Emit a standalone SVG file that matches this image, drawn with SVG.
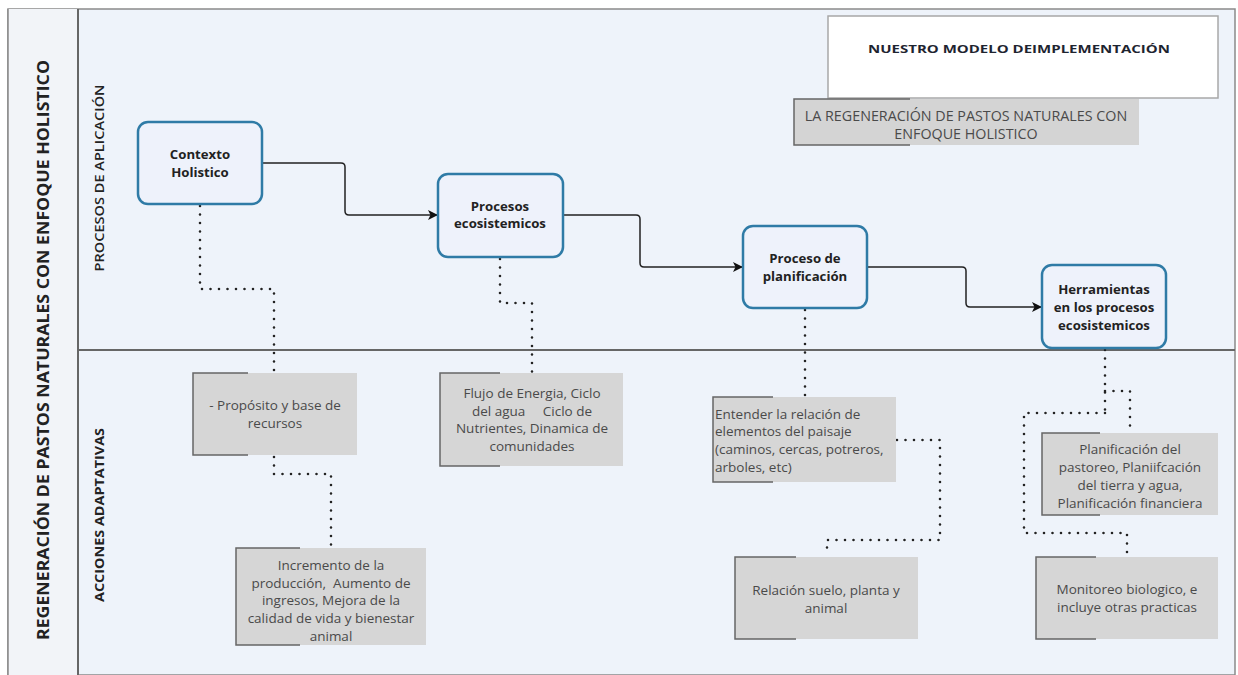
<svg xmlns="http://www.w3.org/2000/svg" width="1238" height="675" viewBox="0 0 1238 675">
<defs>
<style>
.node{fill:#eef2fb;stroke:#2f7ba6;stroke-width:2.5}
.nt{font-family:"Open Sans","Noto Sans",sans-serif;font-size:13.2px;font-weight:bold;fill:#222;text-anchor:middle}
.gbox{fill:#d6d6d6}
.gedge{fill:none;stroke:#666;stroke-width:1.5}
.gt{font-family:"Open Sans","Noto Sans",sans-serif;font-size:13.5px;fill:#4a4a4a;text-anchor:middle;white-space:pre}
.gtl{font-family:"Open Sans","Noto Sans",sans-serif;font-size:13.5px;fill:#4a4a4a;text-anchor:start}
.flow{fill:none;stroke:#222;stroke-width:1.5}
.dot{fill:none;stroke:#222;stroke-width:2.6;stroke-linecap:round;stroke-dasharray:0 8.5}
.lane{font-family:"Open Sans","Noto Sans",sans-serif;font-size:12.5px;fill:#222}
</style>
<marker id="arr" viewBox="0 0 10 10" refX="9" refY="5" markerWidth="10" markerHeight="10" markerUnits="userSpaceOnUse" orient="auto">
<path d="M0,0 L10,5 L0,10 L2.5,5 Z" fill="#111"/>
</marker>
</defs>

<g id="background">
<rect x="8" y="9" width="1227" height="666" fill="#eef3fa" stroke="#8a8a8a" stroke-width="1.5"/>
<rect x="8" y="9" width="70" height="666" fill="#f2f4f8"/>
<line x1="8" y1="9" x2="8" y2="675" stroke="#8a8a8a" stroke-width="1.5"/>
<line x1="78" y1="9" x2="78" y2="675" stroke="#666" stroke-width="2"/>
<line x1="78" y1="350" x2="1235" y2="350" stroke="#666" stroke-width="2"/>
<text transform="translate(49,350) rotate(-90)" font-family="Open Sans, Noto Sans, sans-serif" font-size="16" font-weight="bold" fill="#222" text-anchor="middle" textLength="580" lengthAdjust="spacingAndGlyphs">REGENERACIÓN DE PASTOS NATURALES CON ENFOQUE HOLISTICO</text>
<text class="lane" transform="translate(104,178) rotate(-90)" text-anchor="middle" font-weight="600" textLength="187" lengthAdjust="spacingAndGlyphs">PROCESOS DE APLICACIÓN</text>
<text class="lane" transform="translate(104,515) rotate(-90)" text-anchor="middle" font-weight="bold" textLength="174" lengthAdjust="spacingAndGlyphs">ACCIONES ADAPTATIVAS</text>
</g>

<g id="title">
<rect x="828" y="16" width="390" height="82" fill="#ffffff" stroke="#a8a8a8" stroke-width="1.5"/>
<text x="1019" y="53" font-family="Open Sans, Noto Sans, sans-serif" font-size="10.5" font-weight="bold" fill="#1e2430" text-anchor="middle" textLength="302" lengthAdjust="spacingAndGlyphs">NUESTRO MODELO DEIMPLEMENTACIÓN</text>
</g>

<g id="subtitle">
<rect x="794" y="99" width="345" height="46" fill="#d4d4d4"/>
<path d="M910,99 H794 V145 H910" fill="none" stroke="#666" stroke-width="1.5"/>
<text class="gt" x="966" y="121" style="font-size:14.3px">LA REGENERACIÓN DE PASTOS NATURALES CON</text>
<text class="gt" x="966" y="139" style="font-size:14.3px">ENFOQUE HOLISTICO</text>
</g>

<g id="connectors">
<path class="flow" marker-end="url(#arr)" d="M262,163 H341 Q345,163 345,167 V211 Q345,215 349,215 H437"/>
<path class="flow" marker-end="url(#arr)" d="M563,215 H636 Q640,215 640,219 V263 Q640,267 644,267 H742"/>
<path class="flow" marker-end="url(#arr)" d="M867,267 H962 Q966,267 966,271 V303 Q966,307 970,307 H1041"/>
<path class="dot" d="M200,206 V289 H274 V372"/>
<path class="dot" d="M274,457 V474 H331 V546"/>
<path class="dot" d="M500,259 V303 H532 V372"/>
<path class="dot" d="M805,310 V396"/>
<path class="dot" d="M897,440 H940 V540 H827 V554"/>
<path class="dot" d="M1105,350 V413"/>
<path class="dot" d="M1105,391 H1130 V430"/>
<path class="dot" d="M1105,413 H1024 V533 H1127 V555"/>
</g>

<g id="n-contexto">
<rect class="node" x="138" y="122" width="124" height="82" rx="10"/>
<text class="nt" x="200" y="159">Contexto</text>
<text class="nt" x="200" y="177">Holistico</text>
</g>
<g id="n-procesos">
<rect class="node" x="438" y="174" width="125" height="83" rx="10"/>
<text class="nt" x="500" y="211">Procesos</text>
<text class="nt" x="500" y="228">ecosistemicos</text>
</g>
<g id="n-planificacion">
<rect class="node" x="743" y="226" width="124" height="82" rx="10"/>
<text class="nt" x="805" y="263">Proceso de</text>
<text class="nt" x="805" y="281">planificación</text>
</g>
<g id="n-herramientas">
<rect class="node" x="1042" y="265" width="124" height="83" rx="10"/>
<text class="nt" x="1104" y="294">Herramientas</text>
<text class="nt" x="1104" y="312">en los procesos</text>
<text class="nt" x="1104" y="330">ecosistemicos</text>
</g>

<g id="g-proposito">
<rect class="gbox" x="193" y="373" width="164" height="82"/>
<path class="gedge" d="M248,373 H193 V455 H248"/>
<text class="gt" x="275" y="410">- Propósito y base de</text>
<text class="gt" x="275" y="428">recursos</text>
</g>
<g id="g-incremento">
<rect class="gbox" x="236" y="548" width="190" height="97"/>
<path class="gedge" d="M300,548 H236 V645 H300"/>
<text class="gt" x="331" y="570">Incremento de la</text>
<text class="gt" x="331" y="588">producción,  Aumento de</text>
<text class="gt" x="331" y="605">ingresos, Mejora de la</text>
<text class="gt" x="331" y="623">calidad de vida y bienestar</text>
<text class="gt" x="331" y="641">animal</text>
</g>
<g id="g-flujo">
<rect class="gbox" x="440" y="373" width="183" height="93"/>
<path class="gedge" d="M500,373 H440 V466 H500"/>
<text class="gt" x="532" y="398">Flujo de Energia, Ciclo</text>
<text class="gt" x="532" y="416">del agua     Ciclo de</text>
<text class="gt" x="532" y="433">Nutrientes, Dinamica de</text>
<text class="gt" x="532" y="451">comunidades</text>
</g>
<g id="g-entender">
<rect class="gbox" x="713" y="397" width="183" height="85"/>
<path class="gedge" d="M773,397 H713 V482 H773"/>
<text class="gtl" x="715" y="419">Entender la relación de</text>
<text class="gtl" x="715" y="436">elementos del paisaje</text>
<text class="gtl" x="715" y="454">(caminos, cercas, potreros,</text>
<text class="gtl" x="715" y="472">arboles, etc)</text>
</g>
<g id="g-relacion">
<rect class="gbox" x="735" y="557" width="183" height="82"/>
<path class="gedge" d="M796,557 H735 V639 H796"/>
<text class="gt" x="826" y="595">Relación suelo, planta y</text>
<text class="gt" x="826" y="613">animal</text>
</g>
<g id="g-planificacion">
<rect class="gbox" x="1042" y="433" width="176" height="82"/>
<path class="gedge" d="M1100,433 H1042 V515 H1100"/>
<text class="gt" x="1130" y="454">Planificación del</text>
<text class="gt" x="1130" y="472">pastoreo, Planiifcación</text>
<text class="gt" x="1130" y="490">del tierra y agua,</text>
<text class="gt" x="1130" y="508">Planificación financiera</text>
</g>
<g id="g-monitoreo">
<rect class="gbox" x="1036" y="557" width="182" height="82"/>
<path class="gedge" d="M1096,557 H1036 V639 H1096"/>
<text class="gt" x="1127" y="594">Monitoreo biologico, e</text>
<text class="gt" x="1127" y="612">incluye otras practicas</text>
</g>
</svg>
